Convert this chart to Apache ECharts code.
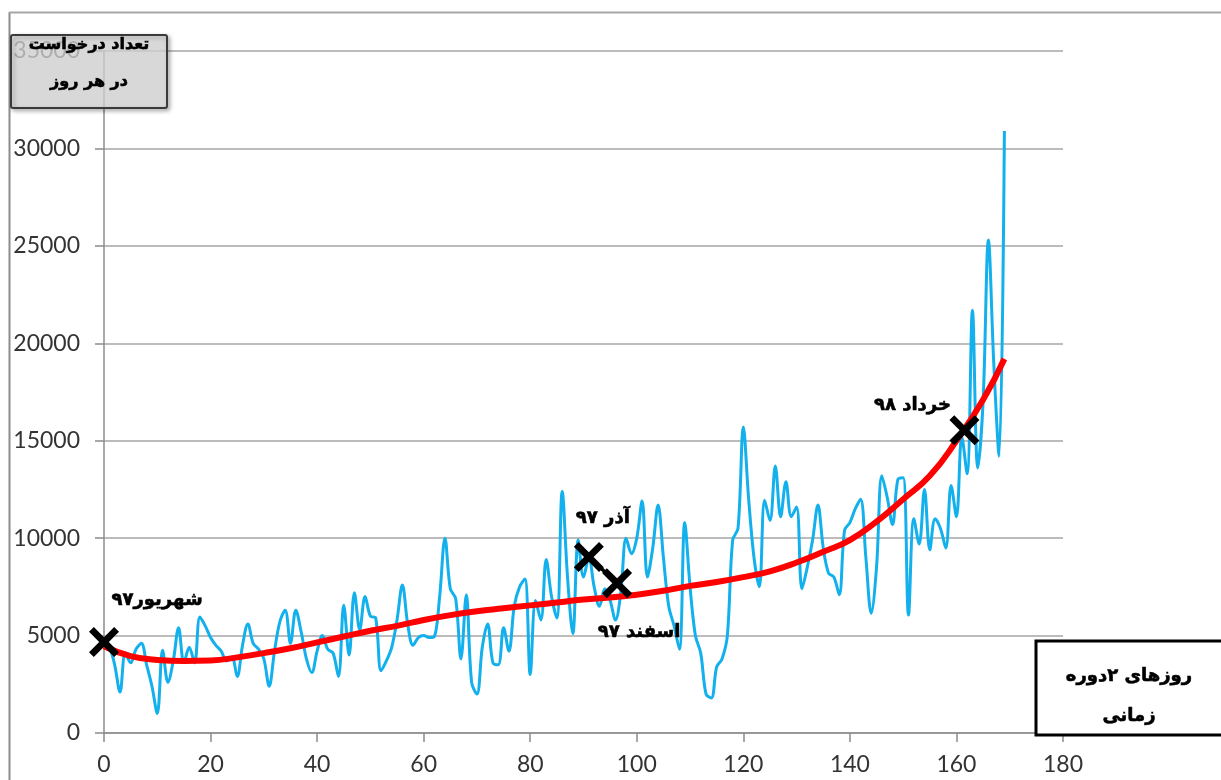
<!DOCTYPE html>
<html>
<head>
<meta charset="utf-8">
<script src="https://cdn.jsdelivr.net/npm/echarts@6/dist/echarts.min.js"></script>
<style>
  html, body { margin: 0; padding: 0; background: #fff; }
  #chart { width: 1221px; height: 780px; }
</style>
</head>
<body>
<div id="chart"></div>
<script>
// requests per day, day index 0..169
const dailyRequests = [
  4500, 4400, 3500, 2100, 4100, 3600, 4300, 4600, 3500, 2400,
  1000, 4250, 2600, 3700, 5400, 3600, 4400, 3600, 5950, 5500,
  4900, 4500, 4200, 3700, 3900, 2900, 4500, 5600, 4600, 4300,
  3800, 2400, 4200, 5700, 6300, 4600, 6300, 5200, 3800, 3100,
  4200, 5000, 4300, 4100, 2900, 6560, 4000, 7200, 5300, 7000,
  6000, 5900, 3200, 3700, 4400, 5800, 7600, 5600, 4500, 4900,
  5000, 4900, 4950, 7000, 10000, 7400, 6900, 3800, 7100, 2600,
  2000, 4400, 5600, 3600, 3500, 5400, 4200, 6500, 7500, 7900,
  3000, 6800, 5800, 8900, 7000, 5900, 12400, 8000, 5100, 9900,
  8000, 9000, 7500, 6500, 7400, 6800, 5800, 7200, 10000, 9200,
  10000, 11900, 8000, 9500, 11700, 9000, 6500, 5500, 4300, 10800,
  7500, 5000, 4100, 2000, 1800, 3400, 3800, 5000, 9900, 10500,
  15700, 12000, 9000, 7500, 11950, 10900, 13700, 11100, 12900, 11100,
  11600, 7400, 8500, 9900, 11700, 9500, 8200, 8000, 7100, 10400,
  10800, 11500, 12000, 9000, 6150, 8500, 13200, 12100, 10700, 13000,
  13100, 6050, 11000, 9700, 12500, 9400, 11000, 10500, 9500, 12700,
  11100, 15200, 13300, 21700, 13600, 17000, 25300, 19000, 14200, 30900
];

// trend line
const trendDays = [0, 5, 10, 15, 20, 25, 30, 35, 40, 45, 50, 55, 60, 65, 70, 75, 80, 85,
  90, 95, 100, 105, 110, 115, 120, 125, 130, 135, 140, 145, 150, 155, 160, 165, 169];
const trendValues = [4450, 3950, 3750, 3700, 3720, 3880, 4100, 4350, 4650, 4950, 5250, 5500,
  5800, 6050, 6250, 6400, 6550, 6700, 6850, 6950, 7100, 7300, 7550, 7750, 8000, 8300, 8750,
  9300, 9900, 10850, 12000, 13200, 15000, 17100, 19200];

// marked months
const markDays = [0, 91, 96.3, 161.5];
const markValues = [4670, 9030, 7690, 15540];
const markNames = ['شهریور۹۷', 'آذر ۹۷', 'اسفند ۹۷', 'خرداد ۹۸'];
const markLabelOffsets = [[53, -42], [14, -39], [22, 49], [-52, -25]];

const yTitle = ['تعداد درخواست', 'در هر روز'];
const xTitle = ['روزهای ۲دوره', 'زمانی'];

const chart = echarts.init(document.getElementById('chart'));

const persianFont = '"DejaVu Sans", "Noto Sans", sans-serif';
const crossPath = 'path://M0,3.2L3.2,0L10,6.8L16.8,0L20,3.2L13.2,10L20,16.8L16.8,20L10,13.2L3.2,20L0,16.8L6.8,10Z';
const tickFont = 'Lato, "Open Sans", sans-serif';

function titleText(x, y, text, size) {
  return {
    type: 'text',
    x: x, y: y,
    style: {
      text: text, fontSize: size, fontWeight: 'bold', fontFamily: persianFont,
      fill: '#000', stroke: '#000', lineWidth: 0.6, align: 'center', verticalAlign: 'middle'
    },
    z: 101
  };
}

chart.setOption({
  animation: false,
  grid: { left: 104, right: 158, top: 51, bottom: 47 },
  xAxis: {
    type: 'value',
    min: 0,
    max: 180,
    interval: 20,
    axisLine: { show: true, onZero: false, lineStyle: { color: '#8c8c8c', width: 1.5 } },
    axisTick: { show: true, length: 9, lineStyle: { color: '#8c8c8c', width: 1.5 } },
    splitLine: { show: false },
    axisLabel: { margin: 20, fontSize: 23, color: '#333', fontFamily: tickFont }
  },
  yAxis: {
    type: 'value',
    min: 0,
    max: 35000,
    interval: 5000,
    axisLine: { show: true, lineStyle: { color: '#8c8c8c', width: 1.5 } },
    axisTick: { show: true, length: 9, lineStyle: { color: '#8c8c8c', width: 1.5 } },
    splitLine: { show: true, lineStyle: { color: '#a6a6a6', width: 1.5 } },
    axisLabel: { margin: 24, fontSize: 23, color: '#333', fontFamily: tickFont, formatter: v => String(v) }
  },
  series: [
    {
      type: 'line',
      data: dailyRequests.map((v, i) => [i, v]),
      smooth: 0.35,
      showSymbol: false,
      lineStyle: { color: '#12B0EC', width: 3 },
      z: 2
    },
    {
      type: 'line',
      data: trendDays.map((d, i) => [d, trendValues[i]]),
      smooth: true,
      showSymbol: false,
      lineStyle: { color: '#ff0000', width: 6 },
      z: 3
    },
    {
      type: 'line',
      data: [1, 2].map(i => [markDays[i], markValues[i]]),
      showSymbol: false,
      lineStyle: { color: '#000', width: 3.5 },
      z: 4
    },
    {
      type: 'scatter',
      clip: false,
      symbol: crossPath,
      symbolSize: 30,
      itemStyle: { color: '#000', opacity: 1 },
      data: markDays.map((d, i) => ({
        value: [d, markValues[i]],
        label: {
          show: true,
          formatter: markNames[i],
          position: 'inside',
          offset: markLabelOffsets[i],
          fontSize: 18,
          fontWeight: 'bold',
          color: '#000',
          textBorderColor: '#000',
          textBorderWidth: 0.6,
          fontFamily: persianFont
        }
      })),
      z: 5
    }
  ],
  graphic: [
    {
      type: 'line',
      shape: { x1: 9.5, y1: 12, x2: 9.5, y2: 780 },
      style: { stroke: '#8c8c8c', lineWidth: 2 },
      z: 1
    },
    {
      type: 'line',
      shape: { x1: 9, y1: 12.5, x2: 1221, y2: 12.5 },
      style: { stroke: '#a6a6a6', lineWidth: 2 },
      z: 1
    },
    {
      type: 'rect',
      shape: { x: 11, y: 35, width: 156, height: 73, r: 2 },
      style: {
        fill: 'rgba(226,226,226,0.72)',
        stroke: '#3a3a3a',
        lineWidth: 2,
        shadowBlur: 4,
        shadowOffsetX: 2,
        shadowOffsetY: 2,
        shadowColor: 'rgba(0,0,0,0.35)'
      },
      z: 100
    },
    titleText(89, 45, yTitle[0], 16),
    titleText(89, 82, yTitle[1], 16),
    {
      type: 'rect',
      shape: { x: 1036, y: 641, width: 200, height: 94 },
      style: { fill: '#fff', stroke: '#000', lineWidth: 3 },
      z: 100
    },
    titleText(1129, 676, xTitle[0], 18),
    titleText(1129, 716, xTitle[1], 18)
  ]
});
</script>
</body>
</html>
